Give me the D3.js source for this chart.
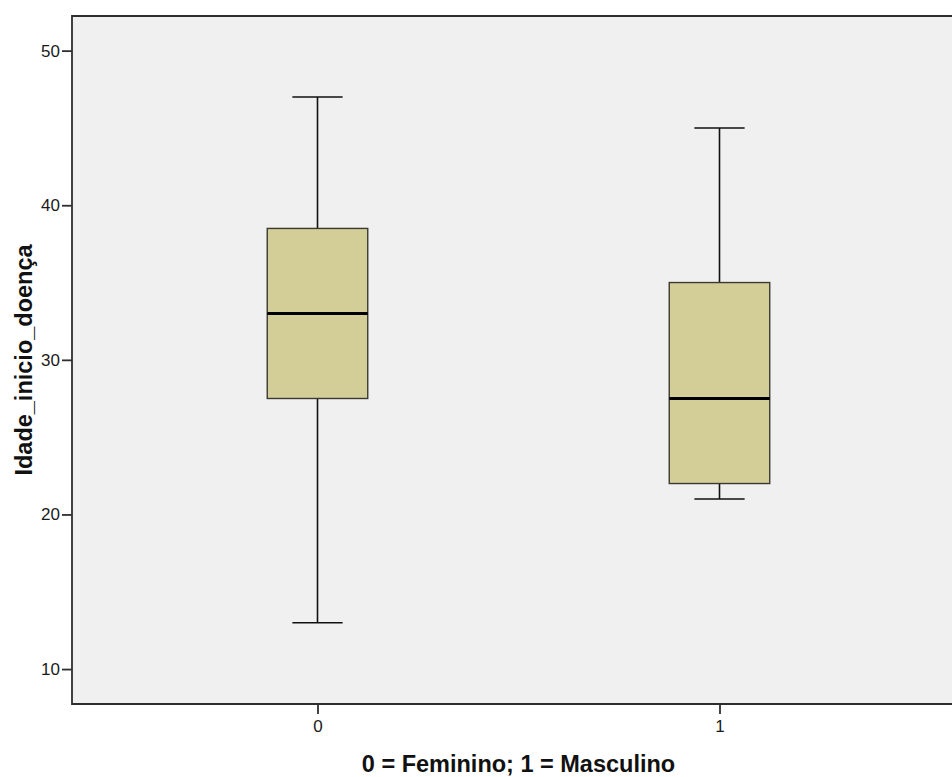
<!DOCTYPE html>
<html>
<head>
<meta charset="utf-8">
<script src="https://cdn.jsdelivr.net/npm/d3@7"></script>
<style>
  html, body { margin: 0; padding: 0; background: #ffffff; }
  svg { display: block; }
</style>
</head>
<body>
<svg id="chart" width="952" height="777"></svg>
<script>
// Age at disease onset by sex (0 = female, 1 = male)
const groups = ["0", "1"];
const whiskerLow  = [13, 21];
const quartile1   = [27.5, 22];
const medians     = [33, 27.5];
const quartile3   = [38.5, 35];
const whiskerHigh = [47, 45];
const yTicks = [10, 20, 30, 40, 50];

const svg = d3.select("#chart");
const plot = { left: 72, right: 965, top: 16, bottom: 704 };

const x = d3.scalePoint()
  .domain(groups)
  .range([plot.left, plot.right])
  .padding(0.6107);

const y = d3.scaleLinear()
  .domain([7.74, 52.24])
  .range([plot.bottom, plot.top]);

const boxW = x.step() * 0.25;
const capW = boxW * 0.5;

// plot background
svg.append("rect")
  .attr("x", plot.left).attr("y", plot.top)
  .attr("width", plot.right - plot.left)
  .attr("height", plot.bottom - plot.top)
  .attr("fill", "#f0f0f0");

// boxes
const data = groups.map((g, i) => ({
  g, lo: whiskerLow[i], q1: quartile1[i], med: medians[i], q3: quartile3[i], hi: whiskerHigh[i]
}));

const box = svg.append("g").selectAll("g").data(data).join("g");

// whisker stems
box.append("line")
  .attr("x1", d => x(d.g)).attr("x2", d => x(d.g))
  .attr("y1", d => y(d.hi)).attr("y2", d => y(d.q3))
  .attr("stroke", "#111").attr("stroke-width", 1.6);
box.append("line")
  .attr("x1", d => x(d.g)).attr("x2", d => x(d.g))
  .attr("y1", d => y(d.q1)).attr("y2", d => y(d.lo))
  .attr("stroke", "#111").attr("stroke-width", 1.6);

// whisker caps
box.append("line")
  .attr("x1", d => x(d.g) - capW / 2).attr("x2", d => x(d.g) + capW / 2)
  .attr("y1", d => y(d.hi)).attr("y2", d => y(d.hi))
  .attr("stroke", "#111").attr("stroke-width", 1.6);
box.append("line")
  .attr("x1", d => x(d.g) - capW / 2).attr("x2", d => x(d.g) + capW / 2)
  .attr("y1", d => y(d.lo)).attr("y2", d => y(d.lo))
  .attr("stroke", "#111").attr("stroke-width", 1.6);

// interquartile box
box.append("rect")
  .attr("x", d => x(d.g) - boxW / 2)
  .attr("y", d => y(d.q3))
  .attr("width", boxW)
  .attr("height", d => y(d.q1) - y(d.q3))
  .attr("fill", "#d3ce97")
  .attr("stroke", "#3a3a32").attr("stroke-width", 1.4);

// median
box.append("line")
  .attr("x1", d => x(d.g) - boxW / 2).attr("x2", d => x(d.g) + boxW / 2)
  .attr("y1", d => y(d.med)).attr("y2", d => y(d.med))
  .attr("stroke", "#000").attr("stroke-width", 3);

// frame (left, top, bottom)
svg.append("path")
  .attr("d", `M${plot.right},${plot.top}H${plot.left}V${plot.bottom}H${plot.right}`)
  .attr("fill", "none").attr("stroke", "#2e2e2e").attr("stroke-width", 1.8);

// y axis
const yAxis = svg.append("g")
  .attr("transform", `translate(${plot.left},0)`)
  .call(d3.axisLeft(y).tickValues(yTicks).tickSize(10).tickPadding(2).tickFormat(d3.format("d")));
yAxis.select(".domain").remove();
yAxis.selectAll(".tick line").attr("stroke", "#2e2e2e").attr("stroke-width", 1.8);
yAxis.selectAll(".tick text")
  .attr("fill", "#1a1a1a").style("font-family", "'Liberation Sans', Arial, sans-serif").style("font-size", "17px");

// x axis
const xAxis = svg.append("g")
  .attr("transform", `translate(0,${plot.bottom})`)
  .call(d3.axisBottom(x).tickSize(10).tickPadding(6));
xAxis.select(".domain").remove();
xAxis.selectAll(".tick line").attr("stroke", "#2e2e2e").attr("stroke-width", 1.8);
xAxis.selectAll(".tick text")
  .attr("fill", "#1a1a1a").style("font-family", "'Liberation Sans', Arial, sans-serif").style("font-size", "17px");

// axis titles
svg.append("text")
  .attr("x", (plot.left + plot.right) / 2)
  .attr("y", 772)
  .attr("text-anchor", "middle")
  .style("font-family", "'Liberation Sans', Arial, sans-serif")
  .style("font-weight", "bold").style("font-size", "23.5px")
  .attr("fill", "#111")
  .text("0 = Feminino; 1 = Masculino");

svg.append("text")
  .attr("transform", `translate(32,360) rotate(-90)`)
  .attr("text-anchor", "middle")
  .style("font-family", "'Liberation Sans', Arial, sans-serif")
  .style("font-weight", "bold").style("font-size", "23.5px")
  .attr("fill", "#111")
  .text("Idade_inicio_doença");
</script>
</body>
</html>
